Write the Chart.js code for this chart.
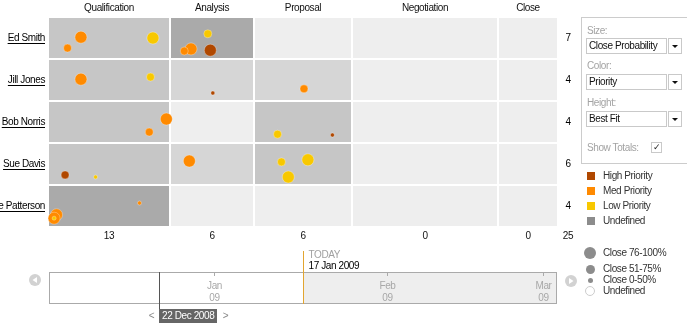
<!DOCTYPE html>
<html>
<head>
<meta charset="utf-8">
<script src="https://cdn.jsdelivr.net/npm/chart.js@4/dist/chart.umd.min.js"></script>
<style>
  body { margin: 0; width: 687px; height: 324px; overflow: hidden; background: #fff; position: relative;
         font-family: "Liberation Sans", Arial, sans-serif; font-size: 10px; letter-spacing: -0.4px; color: #222; }
  #board { position: absolute; left: 0; top: 0; }
  #timeline { position: absolute; left: 0; top: 245px; }
  .panel { position: absolute; left: 581px; top: 17px; width: 130px; height: 145px; border: 1px solid #ccc; }
  .lbl { position: absolute; left: 587px; color: #a3a3a3; line-height: 12px; }
  .sel { position: absolute; left: 586px; width: 81px; height: 16px; box-sizing: border-box; border: 1px solid #c9c9c9;
         padding-left: 2px; line-height: 14px; color: #111; background: #fff; }
  .btn { position: absolute; left: 668px; width: 14px; height: 16px; box-sizing: border-box; border: 1px solid #c9c9c9; background: #fff; }
  .btn::after { content: ""; position: absolute; left: 3px; top: 6px; border-left: 3px solid transparent;
                border-right: 3px solid transparent; border-top: 3px solid #111; }
  .chk { position: absolute; left: 651px; top: 142px; width: 11px; height: 11px; box-sizing: border-box;
         border: 1px solid #c9c9c9; background: #fff; font-size: 9px; line-height: 9px; text-align: center; color: #222; }
  .key { position: absolute; left: 603px; color: #333; line-height: 12px; }
  .sw { position: absolute; left: 587px; width: 8px; height: 8px; }
  .dot { position: absolute; border-radius: 50%; background: #8c8c8c; box-sizing: border-box; }
</style>
</head>
<body>
<canvas id="board" width="580" height="245"></canvas>
<canvas id="timeline" width="687" height="79"></canvas>

<div class="panel"></div>
<div class="lbl" style="top:25px">Size:</div>
<div class="sel" style="top:38px">Close Probability</div><div class="btn" style="top:38px"></div>
<div class="lbl" style="top:60px">Color:</div>
<div class="sel" style="top:74px">Priority</div><div class="btn" style="top:74px"></div>
<div class="lbl" style="top:97px">Height:</div>
<div class="sel" style="top:111px">Best Fit</div><div class="btn" style="top:111px"></div>
<div class="lbl" style="top:142px">Show Totals:</div>
<div class="chk">&#10003;</div>
<div id="keys"></div>

<script>
const stages = ['Qualification', 'Analysis', 'Proposal', 'Negotiation', 'Close'];
const reps = ['Ed Smith', 'Jill Jones', 'Bob Norris', 'Sue Davis', 'Joe Patterson'];

// one entry per open deal; dealX / dealY place the deal inside its cell (0-1)
const dealRep      = [0, 0, 0, 0, 0, 0, 0, 1, 1, 1, 1, 2, 2, 2, 2, 3, 3, 3, 3, 3, 3, 4, 4, 4, 4];
const dealStage    = [0, 0, 0, 1, 1, 1, 1, 0, 0, 1, 2, 0, 0, 2, 2, 0, 0, 1, 2, 2, 2, 0, 0, 0, 0];
const dealX        = [.27, .16, .86, .45, .25, .17, .48, .27, .84, .51, .51, .97, .83, .24, .80, .14, .39, .23, .28, .55, .35, .75, .07, .05, .05];
const dealY        = [.48, .74, .50, .40, .76, .81, .79, .48, .43, .81, .71, .43, .74, .79, .81, .76, .81, .43, .45, .40, .81, .43, .71, .79, .79];
const dealProb     = [85, 60, 85, 60, 85, 60, 85, 85, 60, 30, 60, 85, 60, 60, 30, 60, 30, 85, 60, 85, 85, 30, 85, 85, 30];
const dealPriority = ['Med', 'Med', 'Low', 'Low', 'Med', 'Med', 'High', 'Med', 'Low', 'High', 'Med', 'Med', 'Med',
                      'Low', 'High', 'High', 'Low', 'Med', 'Low', 'Low', 'Low', 'Med', 'Med', 'Med', 'Low'];

const priorities = ['High', 'Med', 'Low'];
const probBands = ['Close 76-100%', 'Close 51-75%', 'Close 0-50%', 'Undefined'];

// timeline
const windowFrom = '2008-12-02T12:00:00Z';
const windowTo = '2009-03-03T12:00:00Z';
const monthStarts = ['2009-01-01', '2009-02-01', '2009-03-01'];
const todayDate = '2009-01-17';
const pickedDate = '2008-12-22';

const FONT = '10px "Liberation Sans", Arial, sans-serif';
const priorityColor = { High: '#b04800', Med: '#ff8a00', Low: '#f8c800' };
const stageSpan = [122, 84, 98, 146, 60];
const stageStart = stageSpan.map((w, i) => stageSpan.slice(0, i).reduce((a, b) => a + b, 0));
const radiusFor = p => p > 75 ? 6 : p > 50 ? 4 : 2;

function cellCount(r, s) {
  return dealRep.filter((rep, i) => rep === r && dealStage[i] === s).length;
}
function shade(n) {
  if (n === 0) return '#eeeeee';
  if (n === 1) return '#d6d6d6';
  if (n < 4) return '#c6c6c6';
  return '#aaaaaa';
}
function setFont(ctx) {
  ctx.font = FONT;
  ctx.letterSpacing = '-0.4px';
}

// legend keys on the right
const keys = document.getElementById('keys');
priorities.concat(['Undefined']).forEach((p, i) => {
  const top = 172 + i * 15;
  keys.insertAdjacentHTML('beforeend',
    `<div class="sw" style="top:${top}px;background:${priorityColor[p] || '#8c8c8c'}"></div>` +
    `<div class="key" style="top:${top - 2}px">${p === 'Undefined' ? p : p + ' Priority'}</div>`);
});
const bandDots = [[253, 12], [269, 9], [280, 5], [291, 10]];
probBands.forEach((b, i) => {
  const [cy, d] = bandDots[i];
  const hollow = i === 3 ? 'background:#fff;border:1px solid #ccc;' : '';
  keys.insertAdjacentHTML('beforeend',
    `<div class="dot" style="left:${590 - d / 2}px;top:${cy - d / 2}px;width:${d}px;height:${d}px;${hollow}"></div>` +
    `<div class="key" style="top:${cy - 6}px">${b}</div>`);
});

const boardPlugin = {
  id: 'board',
  beforeDatasetsDraw(chart) {
    const { ctx, scales: { x, y } } = chart;
    reps.forEach((rep, r) => {
      stages.forEach((st, s) => {
        const x0 = x.getPixelForValue(stageStart[s]);
        const x1 = x.getPixelForValue(stageStart[s] + stageSpan[s]);
        const y0 = y.getPixelForValue(r);
        const y1 = y.getPixelForValue(r + 1);
        ctx.fillStyle = shade(cellCount(r, s));
        ctx.fillRect(x0 + 1, y0 + 1, x1 - x0 - 2, y1 - y0 - 2);
      });
    });
  },
  afterDraw(chart) {
    const { ctx, chartArea: a, scales: { x, y } } = chart;
    ctx.save();
    setFont(ctx);
    ctx.textBaseline = 'middle';
    ctx.fillStyle = '#111';
    const totalX = a.right + 10;

    ctx.textAlign = 'center';
    stages.forEach((st, s) => {
      const cx = x.getPixelForValue(stageStart[s] + stageSpan[s] / 2);
      ctx.fillText(st, cx, 8);
      ctx.fillText(String(dealStage.filter(v => v === s).length), cx, a.bottom + 9);
    });
    ctx.fillText(String(dealRep.length), totalX, a.bottom + 9);

    reps.forEach((rep, r) => {
      const cy = y.getPixelForValue(r + 0.5);
      ctx.textAlign = 'right';
      ctx.fillStyle = '#000';
      ctx.fillText(rep, a.left - 3, cy);
      const w = ctx.measureText(rep).width;
      ctx.fillRect(a.left - 3 - w, cy + 5, w, 1);
      ctx.textAlign = 'center';
      ctx.fillText(String(dealRep.filter(v => v === r).length), totalX, cy);
    });
    ctx.restore();
  }
};

new Chart(document.getElementById('board'), {
  type: 'bubble',
  data: {
    datasets: priorities.map((pr, k) => ({
      label: pr + ' Priority',
      order: 2 - k,
      backgroundColor: priorityColor[pr],
      borderColor: 'rgba(255,255,255,0.3)',
      borderWidth: 1,
      clip: false,
      data: dealRep.map((r, i) => i).filter(i => dealPriority[i] === pr).map(i => ({
        x: stageStart[dealStage[i]] + dealX[i] * stageSpan[dealStage[i]],
        y: dealRep[i] + dealY[i],
        r: radiusFor(dealProb[i])
      }))
    }))
  },
  options: {
    responsive: false,
    animation: false,
    events: [],
    layout: { autoPadding: false, padding: { left: 48, right: 22, top: 17, bottom: 18 } },
    scales: {
      x: { type: 'linear', min: 0, max: stageStart[4] + stageSpan[4], display: false },
      y: { type: 'linear', min: 0, max: reps.length, reverse: true, display: false }
    },
    plugins: { legend: { display: false }, tooltip: { enabled: false } }
  },
  plugins: [boardPlugin]
});

const dayOf = s => (Date.parse(s.length > 10 ? s : s + 'T00:00:00Z') - Date.parse('2009-01-01T00:00:00Z')) / 864e5;
const MONTHS = ['Jan', 'Feb', 'Mar', 'Apr', 'May', 'Jun', 'Jul', 'Aug', 'Sep', 'Oct', 'Nov', 'Dec'];
const fmtDate = s => { const d = new Date(s + 'T00:00:00Z'); return d.getUTCDate() + ' ' + MONTHS[d.getUTCMonth()] + ' ' + d.getUTCFullYear(); };

// grey scroll button, dir -1 points left, 1 points right
function roundButton(ctx, cx, cy, dir) {
  ctx.fillStyle = '#d2d2d2';
  ctx.beginPath(); ctx.arc(cx, cy, 6, 0, Math.PI * 2); ctx.fill();
  ctx.fillStyle = '#fff';
  ctx.beginPath();
  ctx.moveTo(cx - 2 * dir, cy - 3); ctx.lineTo(cx + 2.5 * dir, cy); ctx.lineTo(cx - 2 * dir, cy + 3);
  ctx.closePath(); ctx.fill();
}

const timelinePlugin = {
  id: 'timelineBox',
  beforeDraw(chart) {
    const { ctx, chartArea: a, scales: { x } } = chart;
    const tx = Math.round(x.getPixelForValue(dayOf(todayDate)));
    ctx.save();
    ctx.fillStyle = '#fff';
    ctx.fillRect(a.left, a.top, tx - a.left, a.height);
    ctx.fillStyle = '#eeeeee';
    ctx.fillRect(tx, a.top, a.right - tx, a.height);
    ctx.strokeStyle = '#aaaaaa';
    ctx.lineWidth = 1;
    ctx.strokeRect(a.left + 0.5, a.top + 0.5, a.width - 1, a.height - 1);

    setFont(ctx);
    ctx.textAlign = 'center';
    ctx.textBaseline = 'middle';
    monthStarts.forEach(m => {
      const mx = Math.round(x.getPixelForValue(dayOf(m))) + 0.5;
      ctx.strokeStyle = '#aaaaaa';
      ctx.beginPath(); ctx.moveTo(mx, a.top); ctx.lineTo(mx, a.top + 4); ctx.stroke();
      const d = new Date(m + 'T00:00:00Z');
      ctx.fillStyle = '#a8a8a8';
      ctx.fillText(MONTHS[d.getUTCMonth()], mx, a.top + 14);
      ctx.fillText(String(d.getUTCFullYear()).slice(2), mx, a.top + 26);
    });
    ctx.restore();
  },
  afterDraw(chart) {
    const { ctx, chartArea: a, scales: { x } } = chart;
    ctx.save();
    setFont(ctx);
    ctx.textBaseline = 'middle';

    // today marker
    const tx = Math.round(x.getPixelForValue(dayOf(todayDate))) + 0.5;
    ctx.strokeStyle = '#e2a530';
    ctx.beginPath(); ctx.moveTo(tx, 6); ctx.lineTo(tx, a.bottom); ctx.stroke();
    ctx.textAlign = 'left';
    ctx.fillStyle = '#a0a0a0';
    ctx.fillText('TODAY', tx + 5, 10);
    ctx.fillStyle = '#000';
    ctx.fillText(fmtDate(todayDate), tx + 5, 21);

    // picked date marker
    const px = Math.round(x.getPixelForValue(dayOf(pickedDate))) + 1.5;
    ctx.strokeStyle = '#555';
    ctx.beginPath(); ctx.moveTo(px, a.top); ctx.lineTo(px, a.bottom + 6); ctx.stroke();
    const label = fmtDate(pickedDate);
    const bw = Math.round(ctx.measureText(label).width) + 6;
    ctx.fillStyle = '#666';
    ctx.fillRect(px - 0.5, a.bottom + 5, bw, 14);
    ctx.fillStyle = '#fff';
    ctx.fillText(label, px + 2.5, a.bottom + 12);
    ctx.fillStyle = '#888';
    ctx.textAlign = 'center';
    ctx.fillText('<', px - 8, a.bottom + 12);
    ctx.fillText('>', px + bw + 8, a.bottom + 12);

    roundButton(ctx, a.left - 14, a.top + 8, -1);
    roundButton(ctx, a.right + 14, a.top + 9, 1);
    ctx.restore();
  }
};

new Chart(document.getElementById('timeline'), {
  type: 'scatter',
  data: { datasets: [] },
  options: {
    responsive: false,
    animation: false,
    events: [],
    layout: { autoPadding: false, padding: { left: 49, right: 130, top: 27, bottom: 20 } },
    scales: {
      x: { type: 'linear', min: dayOf(windowFrom), max: dayOf(windowTo), display: false },
      y: { min: 0, max: 1, display: false }
    },
    plugins: { legend: { display: false }, tooltip: { enabled: false } }
  },
  plugins: [timelinePlugin]
});
</script>
</body>
</html>
